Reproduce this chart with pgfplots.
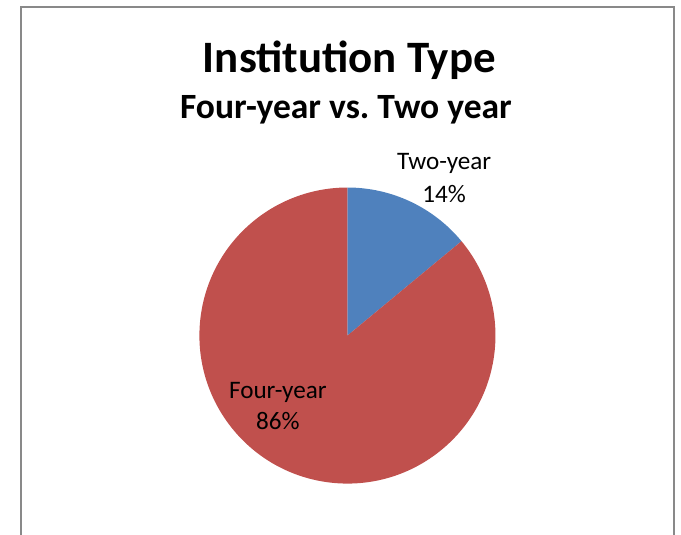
\documentclass[border=0pt]{standalone}
\usepackage{pgfplots}
\usepackage{pgfplotstable}
\pgfplotsset{compat=1.18}
\usepackage{fontspec}
\setmainfont{Carlito}
\frenchspacing
\definecolor{twoyear}{HTML}{4F81BD}
\definecolor{fouryear}{HTML}{C0504D}
\definecolor{framegray}{HTML}{898989}
\pgfplotstableread{
label value
Two-year 14
Four-year 86
}\piedata
\begin{document}
\pgfplotstablegetelem{0}{value}\of\piedata
\pgfmathsetmacro\vTwo{\pgfplotsretval}
\pgfplotstablegetelem{1}{value}\of\piedata
\pgfmathsetmacro\vFour{\pgfplotsretval}
\pgfmathsetmacro\aEnd{90-3.6*\vTwo}
\pgfmathsetmacro\aLast{\aEnd-3.6*\vFour}
\begin{tikzpicture}
\begin{axis}[
  name=ax,
  width=681pt, height=542pt, scale only axis,
  xmin=0, xmax=681, ymin=0, ymax=542,
  hide axis, clip=false,
]
\draw[framegray, line width=2pt] (12,0) -- (12,535) -- (674,535) -- (674,0);
\fill[twoyear] (343,202) -- ({343+150*cos(90)},{202+150*sin(90)}) arc[start angle=90, end angle=\aEnd, radius=150pt] -- cycle;
\fill[fouryear] (343,202) -- ({343+150*cos(\aEnd)},{202+150*sin(\aEnd)}) arc[start angle=\aEnd, end angle=\aLast, radius=150pt] -- cycle;
\node[anchor=base, font=\fontsize{45.5}{50}\selectfont\bfseries] at (345,469) {Institution Type};
\node[anchor=base, font=\fontsize{36}{40}\selectfont\bfseries] at (341.5,422) {Four-year vs. Two year};
\node[anchor=base, font=\fontsize{25.5}{28}\selectfont] at (441,370.5) {Two-year};
\node[anchor=base, font=\fontsize{25.5}{28}\selectfont] at (441,337) {\pgfmathprintnumber[assume math mode=true,precision=0]{\vTwo}\%};
\node[anchor=base, font=\fontsize{25.5}{28}\selectfont] at (272.5,138.7) {Four-year};
\node[anchor=base, font=\fontsize{25.5}{28}\selectfont] at (272.5,107) {\pgfmathprintnumber[assume math mode=true,precision=0]{\vFour}\%};
\end{axis}
\pgfresetboundingbox
\path[use as bounding box] (ax.south west) rectangle (ax.north east);
\end{tikzpicture}
\end{document}
